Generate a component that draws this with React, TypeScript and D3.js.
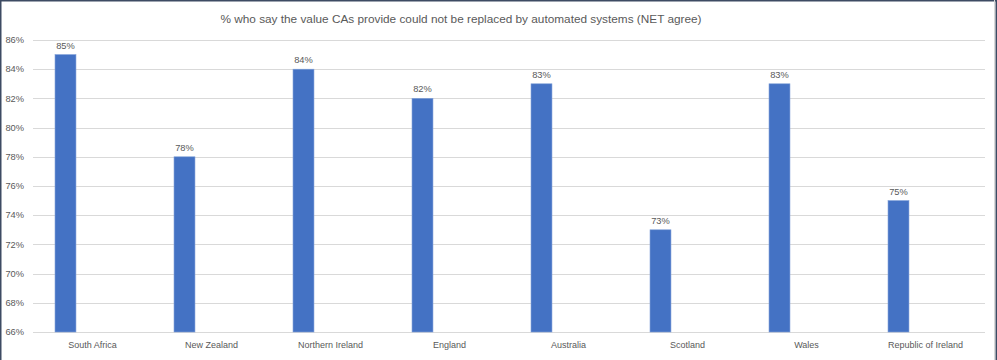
import { useEffect, useRef } from 'react';
import * as d3 from 'd3';

// Chart values
const categories = [
  'South Africa',
  'New Zealand',
  'Northern Ireland',
  'England',
  'Australia',
  'Scotland',
  'Wales',
  'Republic of Ireland',
];
const values = [85, 78, 84, 82, 83, 73, 83, 75];
const yTicks = [66, 68, 70, 72, 74, 76, 78, 80, 82, 84, 86];
const title = '% who say the value CAs provide could not be replaced by automated systems (NET agree)';

const width = 997;
const height = 360;
const margin = { top: 40, right: 12, bottom: 28, left: 33 };
const innerWidth = width - margin.left - margin.right;
const innerHeight = height - margin.top - margin.bottom;

const FONT = '"Liberation Sans", Arial, sans-serif';
const TEXT_COLOR = '#595959';

export default function App() {
  const svgRef = useRef<SVGSVGElement>(null);

  useEffect(() => {
    if (!svgRef.current) return;
    const svg = d3.select(svgRef.current);
    const g = svg.select<SVGGElement>('.chart-content');
    g.selectAll('*').remove();

    const x = d3.scaleBand().domain(categories).range([0, innerWidth]).padding(0);
    const y = d3.scaleLinear().domain([66, 86]).range([innerHeight, 0]);

    // Bars sit in the left part of each band (second series slot is empty)
    const barOffset = x.bandwidth() * 0.185;
    const barWidth = x.bandwidth() * 0.176;

    // Gridlines
    g.selectAll('.grid')
      .data(yTicks)
      .join('line')
      .attr('x1', 0)
      .attr('x2', innerWidth)
      .attr('y1', (d) => Math.round(y(d)) + 0.5)
      .attr('y2', (d) => Math.round(y(d)) + 0.5)
      .attr('stroke', '#d9d9d9')
      .attr('stroke-width', 1);

    // Y tick labels
    g.selectAll('.ytick')
      .data(yTicks)
      .join('text')
      .attr('x', -9)
      .attr('y', (d) => y(d))
      .attr('dy', '0.35em')
      .attr('text-anchor', 'end')
      .attr('font-size', 9.3)
      .attr('font-family', FONT)
      .attr('fill', TEXT_COLOR)
      .text((d) => `${d}%`);

    // Bars
    g.selectAll('.bar')
      .data(values)
      .join('rect')
      .attr('x', (_, i) => (x(categories[i]) ?? 0) + barOffset)
      .attr('y', (d) => y(d))
      .attr('width', barWidth)
      .attr('height', (d) => innerHeight - y(d))
      .attr('fill', '#4472c4')
      .attr('stroke', '#7f9fd8')
      .attr('stroke-width', 0.6);

    // Value labels
    g.selectAll('.val')
      .data(values)
      .join('text')
      .attr('x', (_, i) => (x(categories[i]) ?? 0) + barOffset + barWidth / 2)
      .attr('y', (d) => y(d) - 6)
      .attr('text-anchor', 'middle')
      .attr('font-size', 9.3)
      .attr('font-family', FONT)
      .attr('fill', TEXT_COLOR)
      .text((d) => `${d}%`);

    // Category labels
    g.selectAll('.cat')
      .data(categories)
      .join('text')
      .attr('x', (d) => (x(d) ?? 0) + x.bandwidth() / 2)
      .attr('y', innerHeight + 16)
      .attr('text-anchor', 'middle')
      .attr('font-size', 9)
      .attr('font-family', FONT)
      .attr('fill', TEXT_COLOR)
      .text((d) => d);
  }, []);

  return (
    <>
      <style>{'body{margin:0}'}</style>
      <svg ref={svgRef} width={width} height={height} style={{ display: 'block' }}>
        <rect x={0} y={0} width={width} height={height} fill="#ffffff" />
        <text
          x={461}
          y={23}
          textAnchor="middle"
          fontSize={11.8}
          fontFamily={FONT}
          fill={TEXT_COLOR}
        >
          {title}
        </text>
        <g className="chart-content" transform={`translate(${margin.left}, ${margin.top})`} />
        {/* frame */}
        <line x1={0.75} x2={0.75} y1={0} y2={height} stroke="#3d4b63" strokeWidth={1.5} />
        <line x1={0} x2={width} y1={0.75} y2={0.75} stroke="#3d4b63" strokeWidth={1.5} />
        <line x1={994.5} x2={994.5} y1={0} y2={height} stroke="#d9d9d9" strokeWidth={1} />
        <line x1={996.25} x2={996.25} y1={0} y2={height} stroke="#3d4b63" strokeWidth={1.5} />
      </svg>
    </>
  );
}
